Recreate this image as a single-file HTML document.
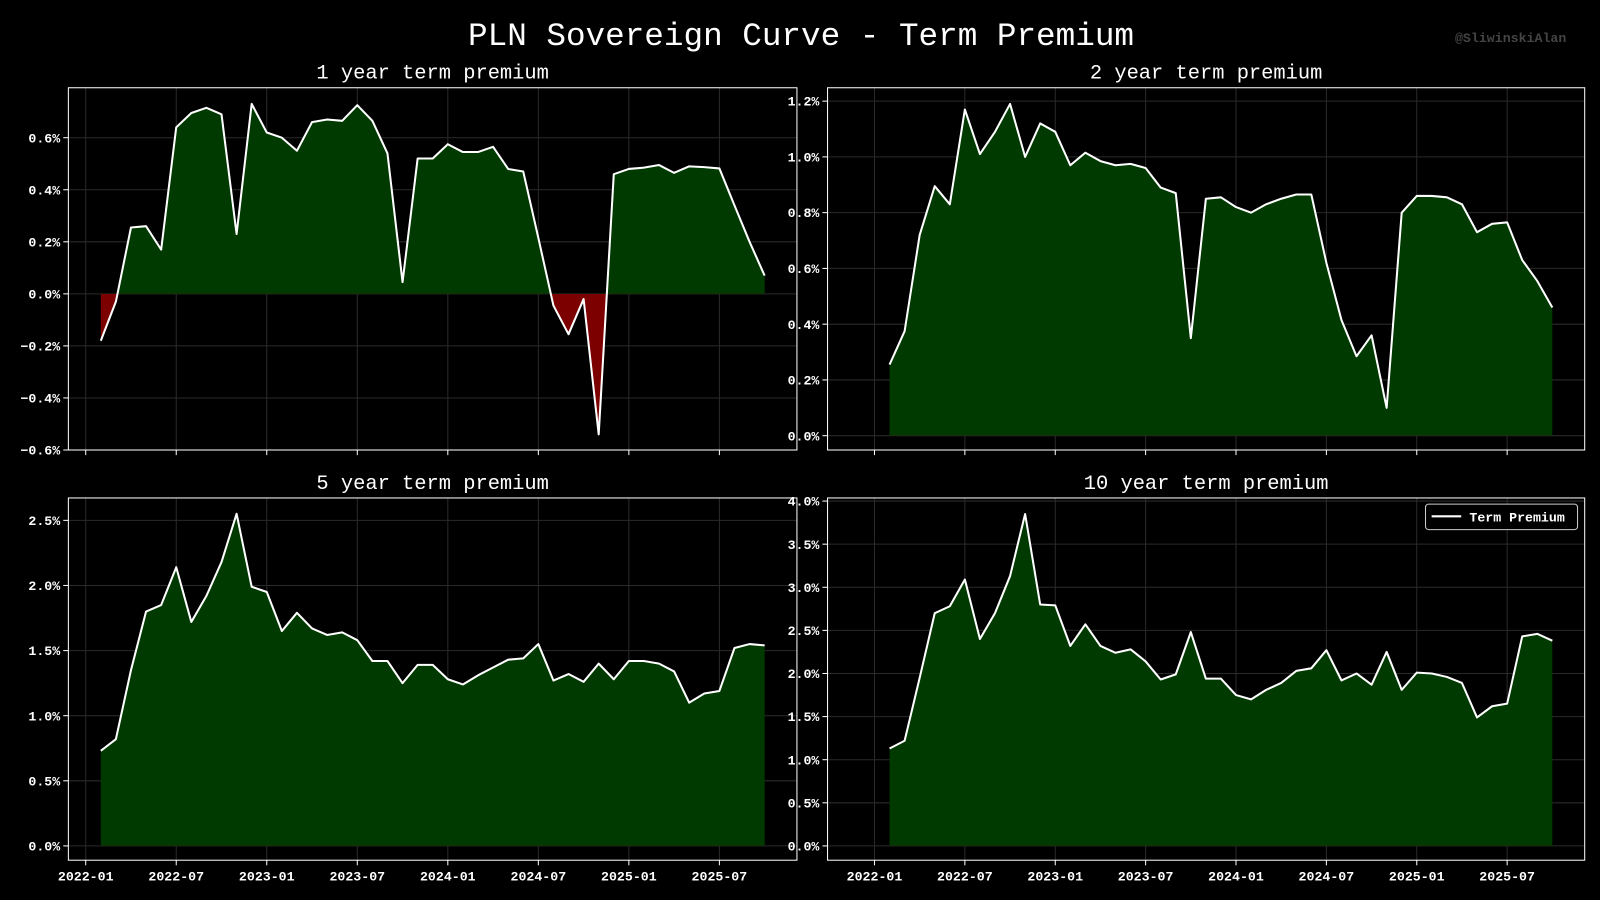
<!DOCTYPE html>
<html><head><meta charset="utf-8"><style>
html,body{margin:0;padding:0;background:#000;}
svg{display:block;}
text{font-family:"Liberation Mono","DejaVu Sans Mono",monospace;}
</style></head><body>
<svg id="chart" width="1600" height="900" viewBox="0 0 1568 882" preserveAspectRatio="none" xmlns="http://www.w3.org/2000/svg">
<rect width="1568" height="882" fill="#000"/>
<text x="785" y="44" fill="#fff" font-size="32" text-anchor="middle">PLN Sovereign Curve - Term Premium</text>
<text x="1535" y="41" fill="#444" font-size="13" font-weight="bold" text-anchor="end">@SliwinskiAlan</text>
</svg>
<script>
const startMonth = 1; // 2022-02 (months since 2022-01)
const xTickLabels = ["2022-01","2022-07","2023-01","2023-07","2024-01","2024-07","2025-01","2025-07"];
const xTickMonths = [0,6,12,18,24,30,36,42];
const tp1y = [-0.18,-0.03,0.255,0.26,0.17,0.64,0.695,0.715,0.69,0.23,0.73,0.62,0.60,0.55,0.66,0.67,0.665,0.725,0.665,0.54,0.045,0.52,0.52,0.575,0.545,0.545,0.565,0.48,0.47,0.215,-0.045,-0.155,-0.02,-0.54,0.46,0.48,0.485,0.495,0.465,0.49,0.487,0.482,0.34,0.20,0.07];
const tp2y = [0.255,0.375,0.72,0.895,0.83,1.17,1.01,1.09,1.19,1.00,1.12,1.09,0.97,1.015,0.985,0.97,0.975,0.96,0.89,0.87,0.35,0.85,0.855,0.82,0.80,0.83,0.85,0.865,0.865,0.62,0.415,0.285,0.36,0.10,0.80,0.86,0.86,0.855,0.83,0.73,0.76,0.765,0.63,0.555,0.46];
const tp5y = [0.73,0.82,1.35,1.80,1.85,2.14,1.72,1.92,2.18,2.55,1.99,1.95,1.65,1.79,1.67,1.62,1.64,1.58,1.42,1.42,1.25,1.39,1.39,1.28,1.24,1.31,1.37,1.43,1.44,1.55,1.27,1.32,1.26,1.40,1.28,1.42,1.42,1.40,1.34,1.10,1.17,1.19,1.52,1.55,1.54];
const tp10y = [1.13,1.22,1.95,2.70,2.78,3.09,2.40,2.70,3.13,3.85,2.80,2.79,2.32,2.57,2.32,2.24,2.28,2.14,1.93,1.99,2.48,1.94,1.94,1.75,1.70,1.81,1.89,2.03,2.06,2.27,1.92,2.00,1.87,2.25,1.81,2.01,2.00,1.96,1.89,1.49,1.62,1.65,2.43,2.46,2.38];
const yTicks1 = [-0.6,-0.4,-0.2,0.0,0.2,0.4,0.6];
const yTicks2 = [0.0,0.2,0.4,0.6,0.8,1.0,1.2];
const yTicks5 = [0.0,0.5,1.0,1.5,2.0,2.5];
const yTicks10 = [0.0,0.5,1.0,1.5,2.0,2.5,3.0,3.5,4.0];

const NS="http://www.w3.org/2000/svg";
const svg=document.getElementById('chart');
function mk(tag,attrs,parent){const e=document.createElementNS(NS,tag);for(const k in attrs)e.setAttribute(k,attrs[k]);(parent||svg).appendChild(e);return e;}

const panels=[
 {id:'1y',title:'1 year term premium',vals:tp1y,ticks:yTicks1,box:[67,86,781,441],x0:84,x42:705,ymin:-0.6,ymax:0.792,labelsX:false,dec:1},
 {id:'2y',title:'2 year term premium',vals:tp2y,ticks:yTicks2,box:[811,86,1553,441],x0:857,x42:1477,ymin:-0.0513,ymax:1.248,labelsX:false,dec:1},
 {id:'5y',title:'5 year term premium',vals:tp5y,ticks:yTicks5,box:[67,488,781,843],x0:84,x42:705,ymin:-0.1097,ymax:2.672,labelsX:true,dec:1},
 {id:'10y',title:'10 year term premium',vals:tp10y,ticks:yTicks10,box:[811,488,1553,843],x0:857,x42:1477,ymin:-0.1657,ymax:4.036,labelsX:true,dec:1,legend:true}
];

panels.forEach(p=>{
 const [L,T,R,B]=p.box;
 const xs=m=>p.x0+(m)*(p.x42-p.x0)/42;
 const ys=v=>B-(v-p.ymin)/(p.ymax-p.ymin)*(B-T);
 const g=mk('g',{});
 
 
 const t=mk('text',{x:(L+R)/2,y:T-9,fill:'#fff','font-size':20,'text-anchor':'middle'},g);
 t.textContent=p.title;
 
 
 xTickMonths.forEach((m,i)=>{
  const x=xs(m);
  const gl=mk('line',{x1:x,x2:x,y1:T,y2:B,stroke:'#2a2a2a','stroke-width':1},g);
  
  
  mk('line',{x1:x,x2:x,y1:B,y2:B+5,stroke:'#fff','stroke-width':1},g);
  if(p.labelsX){
   const lt=mk('text',{x:x,y:B+20,fill:'#fff','font-size':13,'font-weight':'bold','text-anchor':'middle'},g);
   lt.textContent=xTickLabels[i];
   
   
  }
 });
 p.ticks.forEach(v=>{
  const y=ys(v);
  const gl=mk('line',{x1:L,x2:R,y1:y,y2:y,stroke:'#2a2a2a','stroke-width':1},g);
  
  
  mk('line',{x1:L-5,x2:L,y1:y,y2:y,stroke:'#fff','stroke-width':1},g);
  const lt=mk('text',{x:L-8,y:y+4.5,fill:'#fff','font-size':13,'font-weight':'bold','text-anchor':'end'},g);
  lt.textContent=(v<0?'\u2212':'')+Math.abs(v).toFixed(p.dec)+'%';
  
  
 });
 const pts=p.vals.map((v,i)=>[xs(startMonth+i),ys(v)]);
 const y0=ys(0);
 const areaD='M'+pts[0][0]+','+y0+' '+pts.map(q=>'L'+q[0]+','+q[1]).join(' ')+' L'+pts[pts.length-1][0]+','+y0+' Z';
 const cpA=mk('clipPath',{id:'ca'+p.id},g); mk('rect',{x:L,y:T,width:R-L,height:Math.max(0,y0-T)},cpA);
 const cpB=mk('clipPath',{id:'cb'+p.id},g); mk('rect',{x:L,y:y0,width:R-L,height:Math.max(0,B-y0)},cpB);
 const ap=mk('path',{d:areaD,fill:'#013a01','clip-path':'url(#ca'+p.id+')'},g);
 
 
 const an=mk('path',{d:areaD,fill:'#7c0000','clip-path':'url(#cb'+p.id+')'},g);
 
 
 const ln=mk('polyline',{points:pts.map(q=>q.join(',')).join(' '),fill:'none',stroke:'#fff','stroke-width':2,'stroke-linejoin':'round'},g);
 
 
 const fr=mk('rect',{x:L,y:T,width:R-L,height:B-T,fill:'none',stroke:'#fff','stroke-width':1},g);
 
 
 if(p.legend){
  const lg=mk('g',{},g);
  
  
  mk('rect',{x:1397,y:494,width:149,height:25,rx:3,fill:'#000',stroke:'#ccc','stroke-width':1},lg);
  mk('line',{x1:1403,x2:1432,y1:506,y2:506,stroke:'#fff','stroke-width':2},lg);
  const lt=mk('text',{x:1440,y:511,fill:'#fff','font-size':13,'font-weight':'bold'},lg);
  lt.textContent='Term Premium';
  
  
 }
});
</script>
</body></html>
